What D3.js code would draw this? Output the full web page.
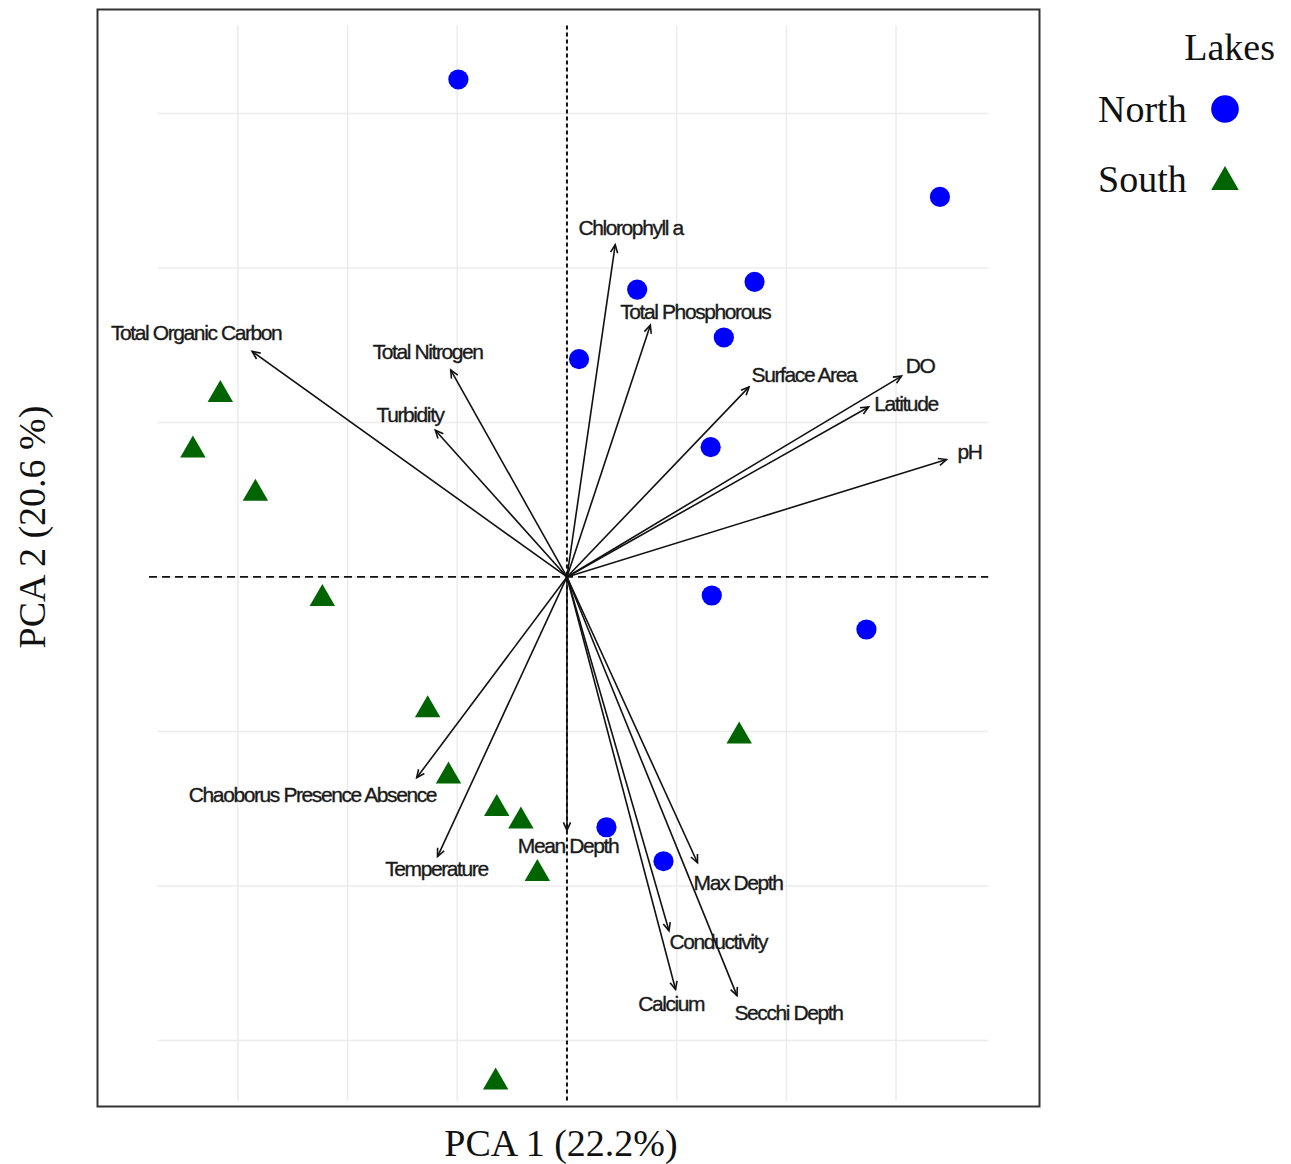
<!DOCTYPE html>
<html>
<head>
<meta charset="utf-8">
<script src="https://cdn.jsdelivr.net/npm/d3@7"></script>
<style>
  html, body { margin: 0; padding: 0; background: #fff; }
  svg { display: block; }
</style>
</head>
<body>
<svg id="chart" width="1291" height="1164"></svg>
<script>
// PCA site scores (PC1, PC2) for each lake, by region
const northScores = [
  [-0.99, 3.22], [3.40, 2.46], [0.64, 1.86], [1.71, 1.91], [1.43, 1.55],
  [0.11, 1.41], [1.31, 0.84], [1.32, -0.12], [2.73, -0.34], [0.36, -1.62],
  [0.88, -1.84]
];
const southScores = [
  [-3.16, 1.18], [-3.41, 0.82], [-2.84, 0.54], [-2.23, -0.14], [-1.27, -0.86],
  [-1.08, -1.29], [-0.64, -1.50], [-0.42, -1.58], [-0.27, -1.92], [1.57, -1.03],
  [-0.65, -3.27]
];

// Variable loadings (arrow tips) and where each variable name sits
const variables = [
  "Chlorophyll a", "Total Phosphorous", "Total Organic Carbon", "Total Nitrogen",
  "Turbidity", "Surface Area", "DO", "Latitude", "pH",
  "Chaoborus Presence Absence", "Temperature", "Mean Depth", "Max Depth",
  "Conductivity", "Calcium", "Secchi Depth"
];
const loadings = [
  [0.44, 2.15], [0.76, 1.63], [-2.87, 1.46], [-1.06, 1.34],
  [-1.20, 0.95], [1.66, 1.23], [3.05, 1.30], [2.75, 1.10], [3.46, 0.76],
  [-1.37, -1.30], [-1.18, -1.81], [0.00, -1.64], [1.19, -1.85],
  [0.93, -2.29], [0.99, -2.67], [1.55, -2.71]
];
const labelAt = [
  [0.58, 2.26], [1.17, 1.72], [-3.38, 1.58], [-1.27, 1.46],
  [-1.43, 1.05], [2.16, 1.31], [3.22, 1.37], [3.09, 1.12], [3.67, 0.81],
  [-2.32, -1.41], [-1.19, -1.89], [0.01, -1.74], [1.56, -1.98],
  [1.38, -2.36], [0.95, -2.76], [2.02, -2.82]
];

const gridTicks = [-3, -2, -1, 0, 1, 2, 3];
const groups = ["North", "South"];
const axisTitles = { x: "PCA 1 (22.2%)", y: "PCA 2 (20.6 %)", legend: "Lakes" };

const svg = d3.select("#chart");

const x = d3.scaleLinear().domain([-3.75, 3.84]).range([155.6, 988.2]);
const y = d3.scaleLinear().domain([-3.41, 3.57]).range([1103.8, 25.4]);

const colour = d3.scaleOrdinal().domain(groups).range(["#0000ff", "#006400"]);
const shape = d3.scaleOrdinal().domain(groups).range([d3.symbolCircle, d3.symbolTriangle]);

// panel frame
svg.append("rect")
  .attr("x", 97.5).attr("y", 9.5)
  .attr("width", 942).attr("height", 1097)
  .attr("fill", "#fff").attr("stroke", "#333").attr("stroke-width", 2);

// light grid
const grid = svg.append("g").attr("stroke", "#ececec").attr("stroke-width", 1.6);
grid.selectAll(".gx").data(gridTicks).join("line")
  .attr("x1", d => x(d)).attr("x2", d => x(d))
  .attr("y1", y(3.57)).attr("y2", y(-3.39));
grid.selectAll(".gy").data(gridTicks).join("line")
  .attr("y1", d => y(d)).attr("y2", d => y(d))
  .attr("x1", x(-3.73)).attr("x2", x(3.84));

// dashed reference lines through the origin
svg.append("line")
  .attr("x1", x(0)).attr("x2", x(0))
  .attr("y1", y(3.57)).attr("y2", y(-3.39))
  .attr("stroke", "#111").attr("stroke-width", 2)
  .attr("stroke-dasharray", "4,3");
svg.append("line")
  .attr("y1", y(0)).attr("y2", y(0))
  .attr("x1", x(-3.81)).attr("x2", x(3.84))
  .attr("stroke", "#111").attr("stroke-width", 1.8)
  .attr("stroke-dasharray", "8,5");

// site points
const pts = svg.append("g");
const drawGroup = (scores, g) => {
  pts.selectAll(null).data(scores).join("path")
    .attr("transform", d => `translate(${x(d[0])},${y(d[1])})`)
    .attr("d", d3.symbol().type(shape(g)).size(g === "North" ? 320 : 280))
    .attr("fill", colour(g));
};
drawGroup(northScores, "North");
drawGroup(southScores, "South");

// open arrow head
svg.append("defs").append("marker")
  .attr("id", "head")
  .attr("viewBox", "-10 -6 12 12")
  .attr("refX", 0).attr("refY", 0)
  .attr("markerWidth", 12).attr("markerHeight", 12)
  .attr("markerUnits", "userSpaceOnUse")
  .attr("orient", "auto")
  .append("path")
  .attr("d", "M-8,-3.6 L0,0 L-8,3.6")
  .attr("fill", "none").attr("stroke", "#111").attr("stroke-width", 1.6);

// loading arrows
svg.append("g").selectAll("line").data(loadings).join("line")
  .attr("x1", x(0)).attr("y1", y(0))
  .attr("x2", d => x(d[0])).attr("y2", d => y(d[1]))
  .attr("stroke", "#111").attr("stroke-width", 1.6)
  .attr("marker-end", "url(#head)");

// variable names
svg.append("g").selectAll("text").data(variables).join("text")
  .attr("x", (d, i) => x(labelAt[i][0]))
  .attr("y", (d, i) => y(labelAt[i][1]))
  .attr("text-anchor", "middle")
  .attr("dominant-baseline", "central")
  .attr("font-family", "'Liberation Sans', Arial, sans-serif")
  .attr("font-size", 21)
  .attr("letter-spacing", "-1.4px")
  .attr("fill", "#1a1a1a")
  .attr("stroke", "#1a1a1a").attr("stroke-width", 0.35)
  .text(d => d);

// axis titles
svg.append("text")
  .attr("x", 561).attr("y", 1156)
  .attr("text-anchor", "middle")
  .attr("font-family", "'Liberation Serif', 'Times New Roman', serif")
  .attr("font-size", 38).attr("fill", "#111")
  .text(axisTitles.x);
svg.append("text")
  .attr("transform", "translate(45,527) rotate(-90)")
  .attr("text-anchor", "middle")
  .attr("font-family", "'Liberation Serif', 'Times New Roman', serif")
  .attr("font-size", 38).attr("fill", "#111")
  .text(axisTitles.y);

// legend
const legend = svg.append("g")
  .attr("font-family", "'Liberation Serif', 'Times New Roman', serif")
  .attr("fill", "#111");
legend.append("text")
  .attr("x", 1275).attr("y", 60)
  .attr("text-anchor", "end").attr("font-size", 38)
  .text(axisTitles.legend);
const rows = legend.selectAll(".row").data(groups).join("g")
  .attr("transform", (d, i) => `translate(0,${109 + i * 70})`);
rows.append("text")
  .attr("x", 1098).attr("y", 0)
  .attr("dominant-baseline", "central")
  .attr("font-size", 38)
  .text(d => d);
rows.append("path")
  .attr("transform", d => `translate(1225,${d === "South" ? 3 : 0})`)
  .attr("d", d => d3.symbol().type(shape(d)).size(d === "North" ? 600 : 330)())
  .attr("fill", d => colour(d));
</script>
</body>
</html>
